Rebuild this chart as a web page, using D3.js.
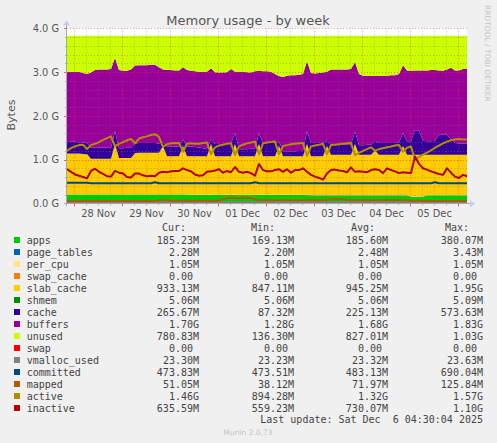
<!DOCTYPE html>
<html><head><meta charset="utf-8">
<script src="https://cdn.jsdelivr.net/npm/d3@7"></script>
<style>
html,body{margin:0;padding:0;background:#F0F0F0;}
svg{display:block;}
</style></head><body>
<svg id="chart" width="497" height="443"></svg>
<script>
// ---------- data (GiB, sampled every 2 hours from Nov 27 20:30 UTC) ----------
const seriesNames = ["apps","page_tables","per_cpu","swap_cache","slab_cache","shmem","cache","buffers","unused","swap","vmalloc_used","committed","mapped","active","inactive"];
const seriesColors = ["#00CC00","#0066B3","#FFE680","#FF8000","#FFCC00","#008F00","#330099","#990099","#CCFF00","#FF0000","#808080","#00487D","#B35A00","#B38F00","#B30000"];
const areaKeys = ["apps","page_tables","per_cpu","swap_cache","slab_cache","shmem","cache","buffers","unused","swap"];
const lineKeys = ["vmalloc_used","committed","mapped","active","inactive"];

const apps = [
0.20,0.20,0.20,0.20,0.20,0.20,0.20,0.20,0.20,0.20,
0.20,0.20,0.20,0.20,0.20,0.20,0.20,0.20,0.20,0.20,
0.20,0.20,0.20,0.20,0.20,0.20,0.20,0.20,0.20,0.20,
0.20,0.19,0.19,0.19,0.19,0.19,0.19,0.19,0.19,0.19,
0.19,0.19,0.19,0.19,0.19,0.19,0.19,0.19,0.19,0.19,
0.19,0.19,0.19,0.19,0.19,0.19,0.19,0.19,0.19,0.19,
0.19,0.18,0.18,0.18,0.18,0.18,0.18,0.18,0.18,0.18,
0.18,0.18,0.18,0.18,0.18,0.18,0.18,0.18,0.18,0.18,
0.18,0.18,0.18,0.18,0.18,0.18,0.15,0.15,0.15,0.15,
0.18,0.18,0.18,0.18,0.18,0.18,0.18,0.18,0.18,0.18,
0.18];
const page_tables = [
0.0022,0.0022,0.0022,0.0022,0.0022,0.0022,0.0022,0.0022,0.0022,0.0022,
0.0022,0.0022,0.0022,0.0022,0.0022,0.0022,0.0022,0.0022,0.0022,0.0022,
0.0022,0.0022,0.0022,0.0022,0.0022,0.0022,0.0022,0.0022,0.0022,0.0022,
0.0022,0.0022,0.0022,0.0022,0.0022,0.0022,0.0022,0.0022,0.0022,0.0022,
0.0022,0.0022,0.0022,0.0022,0.0022,0.0022,0.0022,0.0022,0.0022,0.0022,
0.0022,0.0022,0.0022,0.0022,0.0022,0.0022,0.0022,0.0022,0.0022,0.0022,
0.0022,0.0022,0.0022,0.0022,0.0022,0.0022,0.0022,0.0022,0.0022,0.0022,
0.0022,0.0022,0.0022,0.0022,0.0022,0.0022,0.0022,0.0022,0.0022,0.0022,
0.0022,0.0022,0.0022,0.0022,0.0022,0.0022,0.0022,0.0022,0.0022,0.0022,
0.0022,0.0022,0.0022,0.0022,0.0022,0.0022,0.0022,0.0022,0.0022,0.0022,
0.0022];
const per_cpu = [
0.001,0.001,0.001,0.001,0.001,0.001,0.001,0.001,0.001,0.001,
0.001,0.001,0.001,0.001,0.001,0.001,0.001,0.001,0.001,0.001,
0.001,0.001,0.001,0.001,0.001,0.001,0.001,0.001,0.001,0.001,
0.001,0.001,0.001,0.001,0.001,0.001,0.001,0.001,0.001,0.001,
0.001,0.001,0.001,0.001,0.001,0.001,0.001,0.001,0.001,0.001,
0.001,0.001,0.001,0.001,0.001,0.001,0.001,0.001,0.001,0.001,
0.001,0.001,0.001,0.001,0.001,0.001,0.001,0.001,0.001,0.001,
0.001,0.001,0.001,0.001,0.001,0.001,0.001,0.001,0.001,0.001,
0.001,0.001,0.001,0.001,0.001,0.001,0.001,0.001,0.001,0.001,
0.001,0.001,0.001,0.001,0.001,0.001,0.001,0.001,0.001,0.001,
0.001];
const swap_cache = [
0,0,0,0,0,0,0,0,0,0, 0,0,0,0,0,0,0,0,0,0, 0,0,0,0,0,0,0,0,0,0,
0,0,0,0,0,0,0,0,0,0, 0,0,0,0,0,0,0,0,0,0, 0,0,0,0,0,0,0,0,0,0,
0,0,0,0,0,0,0,0,0,0, 0,0,0,0,0,0,0,0,0,0, 0,0,0,0,0,0,0,0,0,0,
0,0,0,0,0,0,0,0,0,0, 0];
const slab_cache = [
0.93,0.93,0.93,0.93,0.92,0.92,0.81,0.81,0.81,0.81,
0.81,0.81,1.15,0.83,0.83,0.83,0.83,0.94,0.95,0.95,
0.95,0.95,0.95,0.95,1.10,0.87,0.87,0.87,0.87,1.10,
0.87,0.88,0.88,0.88,0.88,0.88,1.16,0.88,0.88,0.88,
0.88,0.88,1.16,0.88,0.88,0.88,0.88,0.88,1.16,0.88,
0.88,0.88,0.88,1.11,0.88,0.88,0.88,0.88,0.88,0.88,
1.16,0.89,0.89,0.89,0.89,1.12,0.92,0.92,0.92,0.92,
0.92,0.92,1.17,0.92,0.92,0.92,0.92,1.02,0.92,0.92,
0.92,0.92,0.92,0.92,1.12,0.92,0.95,0.95,0.95,0.95,
0.92,0.92,0.92,0.92,0.92,0.92,0.92,0.92,0.92,0.92,
0.92];
const shmem = [
0.0049,0.0049,0.0049,0.0049,0.0049,0.0049,0.0049,0.0049,0.0049,0.0049,
0.0049,0.0049,0.0049,0.0049,0.0049,0.0049,0.0049,0.0049,0.0049,0.0049,
0.0049,0.0049,0.0049,0.0049,0.0049,0.0049,0.0049,0.0049,0.0049,0.0049,
0.0049,0.0049,0.0049,0.0049,0.0049,0.0049,0.0049,0.0049,0.0049,0.0049,
0.0049,0.0049,0.0049,0.0049,0.0049,0.0049,0.0049,0.0049,0.0049,0.0049,
0.0049,0.0049,0.0049,0.0049,0.0049,0.0049,0.0049,0.0049,0.0049,0.0049,
0.0049,0.0049,0.0049,0.0049,0.0049,0.0049,0.0049,0.0049,0.0049,0.0049,
0.0049,0.0049,0.0049,0.0049,0.0049,0.0049,0.0049,0.0049,0.0049,0.0049,
0.0049,0.0049,0.0049,0.0049,0.0049,0.0049,0.0049,0.0049,0.0049,0.0049,
0.0049,0.0049,0.0049,0.0049,0.0049,0.0049,0.0049,0.0049,0.0049,0.0049,
0.0049];
const cache = [
0.26,0.27,0.27,0.26,0.27,0.25,0.25,0.25,0.25,0.26,
0.25,0.25,0.29,0.22,0.22,0.23,0.23,0.22,0.22,0.22,
0.22,0.22,0.22,0.21,0.10,0.22,0.22,0.22,0.22,0.15,
0.22,0.22,0.21,0.20,0.18,0.17,0.10,0.28,0.28,0.28,
0.28,0.29,0.25,0.16,0.16,0.16,0.17,0.17,0.25,0.29,
0.30,0.30,0.30,0.10,0.11,0.11,0.11,0.11,0.12,0.12,
0.29,0.30,0.30,0.30,0.30,0.12,0.23,0.23,0.23,0.23,
0.24,0.24,0.29,0.22,0.22,0.23,0.23,0.22,0.27,0.27,
0.27,0.27,0.27,0.28,0.30,0.31,0.31,0.56,0.55,0.32,
0.31,0.31,0.32,0.46,0.46,0.46,0.35,0.27,0.26,0.26,
0.26];
const buffers = [
1.61,1.60,1.60,1.61,1.58,1.58,1.72,1.78,1.79,1.78,
1.79,1.80,1.68,1.79,1.77,1.76,1.79,1.78,1.78,1.78,
1.78,1.79,1.79,1.74,1.65,1.75,1.75,1.74,1.74,1.65,
1.75,1.73,1.73,1.73,1.75,1.76,1.63,1.64,1.63,1.63,
1.64,1.70,1.40,1.77,1.77,1.76,1.74,1.77,1.42,1.65,
1.64,1.63,1.58,1.50,1.70,1.73,1.74,1.74,1.74,1.76,
1.60,1.60,1.59,1.60,1.61,1.58,1.72,1.72,1.72,1.72,
1.71,1.72,1.58,1.63,1.59,1.57,1.57,1.48,1.53,1.54,
1.54,1.55,1.55,1.57,1.55,1.62,1.61,1.37,1.38,1.61,
1.62,1.63,1.62,1.47,1.46,1.49,1.64,1.66,1.67,1.70,
1.71];
const unused = [
0.82,0.82,0.82,0.82,0.85,0.87,0.84,0.78,0.77,0.77,
0.77,0.76,0.50,0.78,0.80,0.80,0.77,0.68,0.67,0.67,
0.67,0.66,0.66,0.72,0.77,0.78,0.78,0.79,0.79,0.72,
0.78,0.80,0.81,0.82,0.82,0.82,0.74,0.83,0.84,0.84,
0.83,0.76,0.82,0.82,0.82,0.83,0.84,0.81,0.80,0.81,
0.81,0.82,0.87,0.92,0.94,0.91,0.90,0.90,0.89,0.87,
0.58,0.85,0.86,0.85,0.84,0.82,0.77,0.77,0.77,0.77,
0.77,0.76,0.60,0.87,0.91,0.92,0.92,0.92,0.92,0.91,
0.91,0.90,0.90,0.87,0.67,0.79,0.80,0.79,0.79,0.79,
0.79,0.78,0.78,0.79,0.80,0.77,0.73,0.79,0.79,0.76,
0.75];
const swap = [
0,0,0,0,0,0,0,0,0,0, 0,0,0,0,0,0,0,0,0,0, 0,0,0,0,0,0,0,0,0,0,
0,0,0,0,0,0,0,0,0,0, 0,0,0,0,0,0,0,0,0,0, 0,0,0,0,0,0,0,0,0,0,
0,0,0,0,0,0,0,0,0,0, 0,0,0,0,0,0,0,0,0,0, 0,0,0,0,0,0,0,0,0,0,
0,0,0,0,0,0,0,0,0,0, 0];
const vmalloc_used = [
0.0227,0.0227,0.0227,0.0227,0.0227,0.0227,0.0227,0.0227,0.0227,0.0227,
0.0227,0.0227,0.0227,0.0227,0.0227,0.0227,0.0227,0.0227,0.0227,0.0227,
0.0227,0.0227,0.0227,0.0227,0.0227,0.0227,0.0227,0.0227,0.0227,0.0227,
0.0227,0.0227,0.0227,0.0227,0.0227,0.0227,0.0227,0.0227,0.0227,0.0227,
0.0227,0.0227,0.0227,0.0227,0.0227,0.0227,0.0227,0.0227,0.0227,0.0227,
0.0227,0.0227,0.0227,0.0227,0.0227,0.0227,0.0227,0.0227,0.0227,0.0227,
0.0227,0.0227,0.0227,0.0227,0.0227,0.0227,0.0227,0.0227,0.0227,0.0227,
0.0227,0.0227,0.0227,0.0227,0.0227,0.0227,0.0227,0.0227,0.0227,0.0227,
0.0227,0.0227,0.0227,0.0227,0.0227,0.0227,0.0227,0.0227,0.0227,0.0227,
0.0227,0.0227,0.0227,0.0227,0.0227,0.0227,0.0227,0.0227,0.0227,0.0227,
0.0227];
const committed = [
0.47,0.47,0.47,0.47,0.47,0.47,0.46,0.46,0.46,0.46,
0.46,0.46,0.46,0.46,0.46,0.46,0.46,0.46,0.46,0.46,
0.46,0.46,0.48,0.46,0.46,0.46,0.46,0.46,0.46,0.46,
0.46,0.46,0.46,0.46,0.46,0.46,0.46,0.46,0.46,0.46,
0.46,0.46,0.46,0.46,0.46,0.46,0.46,0.48,0.46,0.46,
0.46,0.46,0.46,0.46,0.46,0.46,0.46,0.46,0.46,0.46,
0.46,0.46,0.46,0.46,0.46,0.46,0.46,0.46,0.46,0.46,
0.46,0.46,0.46,0.46,0.46,0.46,0.46,0.46,0.46,0.46,
0.46,0.46,0.46,0.46,0.46,0.46,0.46,0.46,0.46,0.46,
0.46,0.46,0.48,0.46,0.46,0.46,0.46,0.46,0.46,0.46,
0.46];
const mapped = [
0.05,0.05,0.05,0.05,0.05,0.05,0.05,0.05,0.05,0.05,
0.05,0.05,0.05,0.05,0.05,0.05,0.05,0.05,0.05,0.05,
0.05,0.05,0.05,0.07,0.07,0.07,0.06,0.06,0.06,0.06,
0.06,0.06,0.06,0.06,0.06,0.06,0.06,0.06,0.06,0.09,
0.12,0.12,0.12,0.12,0.12,0.12,0.12,0.09,0.07,0.07,
0.07,0.07,0.07,0.07,0.07,0.07,0.07,0.07,0.07,0.07,
0.07,0.07,0.07,0.07,0.07,0.07,0.09,0.09,0.09,0.09,
0.07,0.07,0.07,0.07,0.07,0.07,0.07,0.07,0.07,0.07,
0.07,0.07,0.07,0.07,0.07,0.07,0.06,0.06,0.06,0.05,
0.05,0.05,0.05,0.05,0.05,0.05,0.05,0.05,0.05,0.05,
0.05];
const active = [
1.20,1.26,1.30,1.33,1.34,1.24,1.33,1.36,1.40,1.45,
1.49,1.53,1.30,1.36,1.40,1.44,1.47,1.37,1.48,1.51,
1.53,1.56,1.58,1.52,1.29,1.35,1.37,1.37,1.38,1.18,
1.36,1.37,1.36,1.36,1.38,1.39,1.12,1.28,1.32,1.34,
1.36,1.37,1.10,1.30,1.34,1.37,1.39,1.41,1.12,1.37,
1.39,1.40,1.41,1.12,1.31,1.33,1.35,1.36,1.37,1.38,
1.08,1.30,1.32,1.34,1.36,1.12,1.33,1.34,1.35,1.36,
1.37,1.38,1.10,1.15,1.20,1.24,1.28,1.20,1.24,1.26,
1.28,1.30,1.32,1.33,1.18,1.27,1.30,1.00,1.06,1.11,
1.16,1.21,1.27,1.32,1.37,1.41,1.44,1.46,1.47,1.46,
1.46];
const inactive = [
0.78,0.72,0.66,0.63,0.60,0.57,0.74,0.79,0.72,0.67,
0.62,0.61,0.74,0.70,0.68,0.60,0.59,0.68,0.68,0.64,
0.62,0.63,0.62,0.70,0.72,0.71,0.73,0.74,0.74,0.80,
0.76,0.73,0.66,0.63,0.64,0.72,0.73,0.75,0.78,0.70,
0.74,0.71,0.83,0.72,0.70,0.72,0.69,0.63,0.90,0.76,
0.73,0.73,0.76,0.78,0.72,0.78,0.70,0.76,0.76,0.80,
0.72,0.65,0.61,0.58,0.54,0.68,0.76,0.77,0.75,0.74,
0.71,0.82,0.72,0.73,0.72,0.71,0.76,0.78,0.76,0.69,
0.80,0.76,0.73,0.69,0.71,0.70,0.69,1.07,0.90,0.80,
0.77,0.73,0.70,0.67,0.65,0.80,0.70,0.61,0.58,0.65,
0.62];

const yTickValues = [0,1,2,3,4];
const yTickLabels = ["0.0 G","1.0 G","2.0 G","3.0 G","4.0 G"];
const legendHeaders = ["Cur:","Min:","Avg:","Max:"];
const legendCur = ["185.23M","2.28M","1.05M","0.00","933.13M","5.06M","265.67M","1.70G","780.83M","0.00","23.30M","473.83M","51.05M","1.46G","635.59M"];
const legendMin = ["169.13M","2.20M","1.05M","0.00","847.11M","5.06M","87.32M","1.28G","136.30M","0.00","23.23M","473.51M","38.12M","894.28M","559.23M"];
const legendAvg = ["185.60M","2.48M","1.05M","0.00","945.25M","5.06M","225.13M","1.68G","827.01M","0.00","23.32M","483.13M","71.97M","1.32G","730.07M"];
const legendMax = ["380.07M","3.43M","1.05M","0.00","1.95G","5.09M","573.63M","1.83G","1.03G","0.00","23.63M","690.04M","125.84M","1.57G","1.10G"];
const titleText = "Memory usage - by week";
const yLabelText = "Bytes";
const lastUpdate = "Last update: Sat Dec  6 04:30:04 2025";
const footerText = "Munin 2.0.73";
const sideText = "RRDTOOL / TOBI OETIKER";

// ---------- build ----------
const seriesData = {apps,page_tables,per_cpu,swap_cache,slab_cache,shmem,cache,buffers,unused,swap,vmalloc_used,committed,mapped,active,inactive};
const colorOf = {}; seriesNames.forEach((n,i)=>colorOf[n]=seriesColors[i]);
const tStart = Date.UTC(2025,10,27,20,30);
const tEnd = tStart + 200*3600*1000;
const times = apps.map((_,i)=>new Date(tStart + i*2*3600*1000));
const table = times.map((t,i)=>{const r={time:t}; seriesNames.forEach(k=>r[k]=seriesData[k][i]); return r;});

const W=497,H=443;
const P={l:67,r:467,t:28.3,b:203.3};
const x = d3.scaleUtc().domain([new Date(tStart),new Date(tEnd)]).range([P.l,P.r]);
const y = d3.scaleLinear().domain([0,4]).range([P.b,P.t]);

const svg = d3.select('#chart');
svg.append('rect').attr('width',W).attr('height',H).attr('fill','#F0F0F0');
svg.append('rect').attr('x',P.l).attr('y',P.t).attr('width',P.r-P.l).attr('height',P.b-P.t).attr('fill','#FFFFFF');
svg.append('defs').append('clipPath').attr('id','clip').append('rect')
  .attr('x',P.l).attr('y',P.t).attr('width',P.r-P.l).attr('height',P.b-P.t);

const stack = d3.stack().keys(areaKeys);
const stacked = stack(table);
const area = d3.area().x(d=>x(d.data.time)).y0(d=>y(d[0])).y1(d=>y(d[1]));
const gA = svg.append('g').attr('clip-path','url(#clip)');
gA.selectAll('path').data(stacked).join('path')
  .attr('d',area).attr('fill',d=>colorOf[d.key]);

// grid
const gG = svg.append('g').attr('clip-path','url(#clip)');
const minorY = d3.range(0,4.001,0.2).filter(v=>Math.abs(v-Math.round(v))>1e-6);
const minorX = d3.utcHour.every(6).range(new Date(tStart),new Date(tEnd)).filter(d=>d.getUTCHours()!==0);
const majorX = d3.utcDay.range(new Date(tStart),new Date(tEnd));
gG.selectAll('line.myh').data(minorY).join('line').attr('class','myh')
  .attr('x1',P.l).attr('x2',P.r).attr('y1',d=>Math.round(y(d))+0.5).attr('y2',d=>Math.round(y(d))+0.5)
  .attr('stroke','rgba(120,120,120,0.45)').attr('stroke-dasharray','1,2');
gG.selectAll('line.mxv').data(minorX).join('line').attr('class','mxv')
  .attr('x1',d=>Math.round(x(d))+0.5).attr('x2',d=>Math.round(x(d))+0.5).attr('y1',P.t).attr('y2',P.b)
  .attr('stroke','rgba(120,120,120,0.45)').attr('stroke-dasharray','1,2');
gG.selectAll('line.Mh').data(yTickValues).join('line').attr('class','Mh')
  .attr('x1',P.l).attr('x2',P.r).attr('y1',d=>Math.round(y(d))+0.5).attr('y2',d=>Math.round(y(d))+0.5)
  .attr('stroke','rgba(240,60,60,0.6)').attr('stroke-dasharray','1,2');
gG.selectAll('line.Mv').data(majorX).join('line').attr('class','Mv')
  .attr('x1',d=>Math.round(x(d))+0.5).attr('x2',d=>Math.round(x(d))+0.5).attr('y1',P.t).attr('y2',P.b)
  .attr('stroke','rgba(240,60,60,0.6)').attr('stroke-dasharray','1,2');

// lines
const gL = svg.append('g').attr('clip-path','url(#clip)');
lineKeys.forEach(k=>{
  const ln = d3.line().x(d=>x(d.time)).y(d=>y(d[k]));
  gL.append('path').datum(table).attr('d',ln).attr('fill','none')
    .attr('stroke',colorOf[k]).attr('stroke-width',2).attr('stroke-linejoin','round');
});

// axis ticks marks
const gT = svg.append('g');
gT.selectAll('line.tx').data(minorX).join('line').attr('class','tx')
  .attr('x1',d=>Math.round(x(d))+0.5).attr('x2',d=>Math.round(x(d))+0.5).attr('y1',P.b).attr('y2',P.b+2)
  .attr('stroke','#b0b0b0');
gT.selectAll('line.Tx').data(majorX).join('line').attr('class','Tx')
  .attr('x1',d=>Math.round(x(d))+0.5).attr('x2',d=>Math.round(x(d))+0.5).attr('y1',P.b).attr('y2',P.b+3)
  .attr('stroke','#f06060');
gT.selectAll('line.ty').data(minorY).join('line').attr('class','ty')
  .attr('x1',P.l-2).attr('x2',P.l).attr('y1',d=>Math.round(y(d))+0.5).attr('y2',d=>Math.round(y(d))+0.5)
  .attr('stroke','#b0b0b0');
gT.selectAll('line.Ty').data(yTickValues).join('line').attr('class','Ty')
  .attr('x1',P.l-3).attr('x2',P.l).attr('y1',d=>Math.round(y(d))+0.5).attr('y2',d=>Math.round(y(d))+0.5)
  .attr('stroke','#f06060');

// axis lines + arrows
svg.append('line').attr('x1',P.l-3).attr('x2',P.r+4).attr('y1',Math.round(P.b)+0.5).attr('y2',Math.round(P.b)+0.5).attr('stroke','#a8a8a8');
svg.append('line').attr('x1',P.l-0.5).attr('x2',P.l-0.5).attr('y1',P.b+3).attr('y2',P.t-4).attr('stroke','#a8a8a8');
svg.append('path').attr('d',`M${P.r+3},${P.b-3} L${P.r+8},${P.b+0.5} L${P.r+3},${P.b+4} Z`).attr('fill','#c4ccf0');
svg.append('path').attr('d',`M${P.l-4},${P.t-3} L${P.l-0.5},${P.t-8} L${P.l+3},${P.t-3} Z`).attr('fill','#c4ccf0');

// axis labels via d3 axes
const noon = majorX.map(d=>new Date(d.getTime()+12*3600*1000)).filter(d=>d<new Date(tEnd));
const xAxis = d3.axisBottom(x).tickValues(noon).tickFormat(d3.utcFormat('%d %b')).tickSize(0).tickPadding(0);
const gx = svg.append('g').attr('transform',`translate(0,${P.b})`).call(xAxis);
gx.select('.domain').remove();
gx.selectAll('text').attr('dy',null).attr('y',13.5).attr('font-family','DejaVu Sans').attr('font-size',9.8).attr('fill','#555');

const yAxis = d3.axisLeft(y).tickValues(yTickValues).tickFormat((d,i)=>yTickLabels[i]).tickSize(0).tickPadding(0);
const gy = svg.append('g').attr('transform',`translate(${P.l-8},0)`).call(yAxis);
gy.select('.domain').remove();
gy.selectAll('text').attr('dy','0.35em').attr('x',0).attr('font-family','DejaVu Sans').attr('font-size',9.8).attr('fill','#555');

// title, y label, side text
svg.append('text').attr('x',248).attr('y',24.5).attr('text-anchor','middle')
  .attr('font-family','DejaVu Sans').attr('font-size',13).attr('fill','#555').text(titleText);
svg.append('text').attr('transform','translate(15,115) rotate(-90)').attr('text-anchor','middle')
  .attr('font-family','DejaVu Sans').attr('font-size',11).attr('fill','#555').text(yLabelText);
svg.append('text').attr('transform','translate(485,5) rotate(90)').attr('text-anchor','start')
  .attr('font-family','DejaVu Sans').attr('font-size',7.5).attr('fill','#c4c4c4').text(sideText);

// legend
const mono = 'DejaVu Sans Mono';
const charW = 6.02;
const headerRight = [186,275,375,469];
const colRight = [199,294,388,483];
const gLeg = svg.append('g').attr('font-family',mono).attr('font-size',10).attr('fill','#444');
legendHeaders.forEach((h,j)=>{
  gLeg.append('text').attr('x',headerRight[j]).attr('y',231).attr('text-anchor','end').text(h);
});
const cols = [legendCur,legendMin,legendAvg,legendMax];
seriesNames.forEach((n,i)=>{
  const cy = 240 + 12*i;
  gLeg.append('rect').attr('x',14).attr('y',cy-3).attr('width',6).attr('height',6).attr('fill',seriesColors[i]);
  gLeg.append('text').attr('x',26.7).attr('y',cy+3.5).text(n);
  cols.forEach((c,j)=>{
    const v = c[i];
    const shift = /[0-9]$/.test(v) ? charW : 0;
    gLeg.append('text').attr('x',colRight[j]-shift).attr('y',cy+3.5).attr('text-anchor','end').text(v);
  });
});
gLeg.append('text').attr('x',483).attr('y',423).attr('text-anchor','end')
  .attr('xml:space','preserve').style('white-space','pre').text(lastUpdate);
svg.append('text').attr('x',248).attr('y',435).attr('text-anchor','middle')
  .attr('font-family','DejaVu Sans').attr('font-size',7.5).attr('fill','#c4c4c4').text(footerText);
</script>
</body></html>
